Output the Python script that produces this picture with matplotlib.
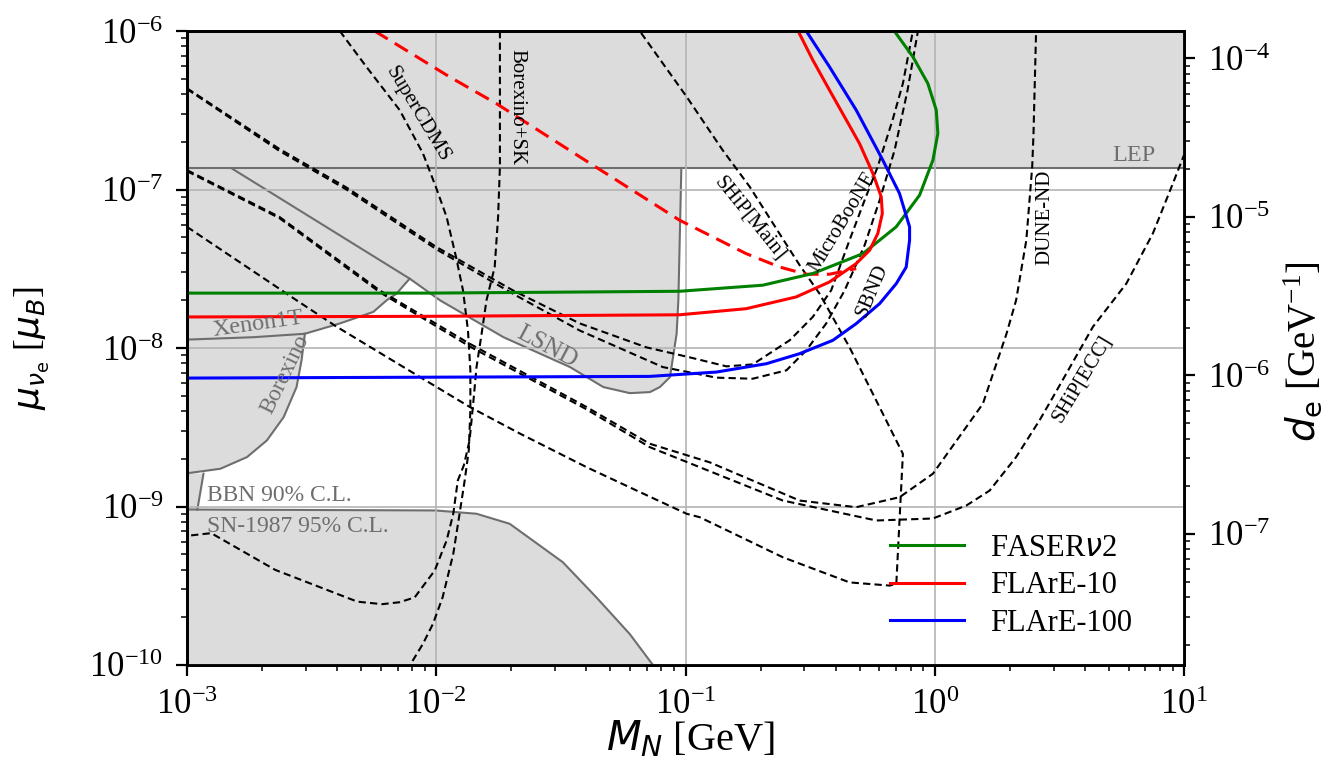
import matplotlib
matplotlib.use('Agg')
from matplotlib import pyplot as plt
from matplotlib.lines import Line2D

plt.rcParams['font.family'] = ['Liberation Serif', 'DejaVu Serif']
plt.rcParams['mathtext.fontset'] = 'custom'
plt.rcParams['mathtext.rm'] = 'Liberation Serif'
plt.rcParams['mathtext.it'] = 'DejaVu Sans:italic'
plt.rcParams['mathtext.sf'] = 'DejaVu Sans'

# M_N in GeV, mu in units of mu_B
LEP_MU = 1.36e-7
DE_PER_MU = 149.0  # d_e [GeV^-1] per mu_B

faser2_m = [1e-3, 9.4e-3, 9.47e-2, 0.204, 0.324, 0.515, 0.70, 0.869, 0.983, 1.029, 1.014, 0.938, 0.817, 0.688]
faser2_mu = [2.22e-8, 2.22e-8, 2.28e-8, 2.49e-8, 2.95e-8, 3.94e-8, 5.81e-8, 9.21e-8, 1.53e-7, 2.26e-7, 3.17e-7, 4.67e-7, 6.88e-7, 1.0e-6]

flare10_m = [1e-3, 9.41e-3, 9.47e-2, 0.175, 0.278, 0.378, 0.484, 0.548, 0.591, 0.616, 0.610, 0.565, 0.499, 0.442, 0.378, 0.324, 0.283]
flare10_mu = [1.57e-8, 1.585e-8, 1.62e-8, 1.77e-8, 2.10e-8, 2.61e-8, 3.41e-8, 4.14e-8, 5.28e-8, 7.06e-8, 8.98e-8, 1.26e-7, 1.95e-7, 2.74e-7, 4.24e-7, 6.56e-7, 1.0e-6]

flare10_alt_m = [5.66e-3, 1.13e-2, 1.74e-2, 3.76e-2, 9.47e-2, 0.175, 0.239, 0.305, 0.378, 0.484]
flare10_alt_mu = [1.0e-6, 5.14e-7, 3.49e-7, 1.61e-7, 6.4e-8, 3.94e-8, 3.24e-8, 2.92e-8, 2.92e-8, 3.17e-8]

flare100_m = [1e-3, 7.18e-2, 0.133, 0.211, 0.287, 0.390, 0.484, 0.601, 0.701, 0.768, 0.7925, 0.7925, 0.722, 0.619, 0.484, 0.378, 0.305]
flare100_mu = [6.46e-9, 6.62e-9, 7.05e-9, 7.96e-9, 9.21e-9, 1.118e-8, 1.425e-8, 1.906e-8, 2.55e-8, 3.24e-8, 4.79e-8, 5.81e-8, 9.44e-8, 1.53e-7, 3.17e-7, 5.95e-7, 1.0e-6]

# excluded regions
xenon_m = [1e-3, 1.85e-3, 2.97e-3, 4.11e-3, 5.59e-3, 6.32e-3, 6.92e-3, 7.82e-3]
xenon_mu = [1.13e-8, 1.17e-8, 1.23e-8, 1.43e-8, 1.69e-8, 2.0e-8, 2.2e-8, 2.74e-8]

lsnd_m = [1.51e-3, 7.82e-3, 1.035e-2, 1.86e-2, 3.44e-2, 4.68e-2, 5.98e-2, 7.2e-2, 7.89e-2, 8.66e-2, 9.21e-2, 9.36e-2, 9.62e-2]
lsnd_mu = [1.36e-7, 2.74e-8, 2.0e-8, 1.17e-8, 7.58e-9, 5.67e-9, 5.19e-9, 5.27e-9, 5.67e-9, 6.55e-9, 1.23e-8, 2.0e-8, 1.36e-7]

borexino_m = [2.97e-3, 2.88e-3, 2.75e-3, 2.44e-3, 2.09e-3, 1.74e-3, 1.36e-3, 1e-3]
borexino_mu = [1.23e-8, 8.36e-9, 5.67e-9, 3.66e-9, 2.61e-9, 2.05e-9, 1.73e-9, 1.62e-9]

bbn_m = [1.164e-3, 1.10e-3]
bbn_mu = [1.61e-9, 9.57e-10]

sn_m = [1e-3, 9.95e-3, 1.45e-2, 1.97e-2, 2.44e-2, 3.22e-2, 4.39e-2, 5.97e-2, 7.4e-2]
sn_mu = [9.57e-10, 9.44e-10, 9.0e-10, 7.78e-10, 6.1e-10, 4.45e-10, 2.67e-10, 1.57e-10, 1e-10]

# projected sensitivities of other experiments
supercdms_m = [4.10e-3, 5.24e-3, 7.13e-3, 8.84e-3, 1.0e-2, 1.10e-2, 1.20e-2, 1.28e-2, 1.34e-2, 1.37e-2, 1.37e-2,
               1.35e-2, 1.30e-2, 1.24e-2, 1.17e-2, 1.06e-2, 9.70e-3, 8.84e-3, 7.85e-3]
supercdms_mu = [1e-6, 5.95e-7, 3.17e-7, 1.69e-7, 1.02e-7, 6.71e-8, 3.75e-8, 2.31e-8, 1.29e-8, 7.23e-9, 4.04e-9,
                2.26e-9, 1.46e-9, 9.0e-10, 5.03e-10, 2.67e-10, 1.82e-10, 1.36e-10, 1e-10]

borexsk_m = [1.80e-2, 1.80e-2, 1.77e-2, 1.715e-2, 1.59e-2, 1.52e-2, 1.45e-2, 1.41e-2, 1.36e-2, 1.29e-2, 1.22e-2,
             1.17e-2, 1.10e-2, 9.85e-3, 8.19e-3, 7.13e-3, 6.07e-3, 4.82e-3, 2.26e-3, 1.25e-3, 1e-3]
borexsk_mu = [1e-6, 1.39e-7, 6.71e-8, 3.24e-8, 2.0e-8, 1.23e-8, 7.58e-9, 4.67e-9, 2.61e-9, 1.82e-9, 1.46e-9,
              9.0e-10, 6.1e-10, 3.94e-10, 2.67e-10, 2.49e-10, 2.42e-10, 2.51e-10, 3.98e-10, 6.79e-10, 6.53e-10]

microboone_m = [1e-3, 2.35e-3, 4.36e-3, 1.0e-2, 2.03e-2, 3.76e-2, 6.96e-2, 0.104, 0.146, 0.186, 0.262, 0.324,
                0.384, 0.455, 0.523, 0.590, 0.677, 0.745, 0.817]
microboone_mu = [4.35e-7, 1.80e-7, 1.03e-7, 4.34e-8, 2.31e-8, 1.43e-8, 1.01e-8, 8.73e-9, 7.66e-9, 7.88e-9, 1.12e-8,
                 1.57e-8, 2.31e-8, 4.79e-8, 8.56e-8, 1.39e-7, 2.74e-7, 4.67e-7, 1e-6]

sbnd_m = [1e-3, 2.35e-3, 4.36e-3, 1.0e-2, 2.03e-2, 3.76e-2, 8.11e-2, 0.133, 0.186, 0.254, 0.305, 0.367, 0.435,
          0.523, 0.601, 0.690, 0.778, 0.856]
sbnd_mu = [4.30e-7, 1.75e-7, 1.0e-7, 4.2e-8, 2.2e-8, 1.29e-8, 7.58e-9, 6.5e-9, 6.4e-9, 7.23e-9, 9.66e-9, 1.43e-8,
           2.31e-8, 4.45e-8, 8.56e-8, 1.77e-7, 4.24e-7, 1e-6]

dune_m = [1e-3, 2.35e-3, 5.93e-3, 1.36e-2, 4.01e-2, 7.18e-2, 0.125, 0.287, 0.484, 0.723, 0.983, 1.56, 1.94, 2.12,
          2.33, 2.46, 2.49, 2.55]
dune_mu = [1.325e-7, 6.71e-8, 2.31e-8, 1.065e-8, 4.24e-9, 2.49e-9, 1.90e-9, 1.09e-9, 9.9e-10, 1.145e-9, 1.61e-9,
           4.45e-9, 1.23e-8, 2.0e-8, 4.79e-8, 1.39e-7, 2.26e-7, 1e-6]

shipecc_m = [1e-3, 2.35e-3, 5.93e-3, 1.36e-2, 4.01e-2, 7.18e-2, 0.246, 0.583, 0.983, 1.34, 1.66, 2.12, 2.63, 2.98,
             4.31, 5.87, 7.50, 9.02, 10.0]
shipecc_mu = [1.305e-7, 6.59e-8, 2.25e-8, 1.024e-8, 4.1e-9, 2.37e-9, 1.09e-9, 8.16e-10, 8.4e-10, 1.015e-9, 1.26e-9,
              2.05e-9, 3.49e-9, 4.9e-9, 1.36e-8, 2.55e-8, 5.28e-8, 1.09e-7, 1.65e-7]

shipmain_m = [1e-3, 2.75e-3, 3.99e-3, 8.6e-3, 1.365e-2, 2.17e-2, 4.01e-2, 6.37e-2, 0.101, 0.114, 0.246, 0.455,
              0.659, 0.701, 0.745, 0.619, 0.455, 0.345, 0.287, 0.238, 0.181, 0.141, 0.101, 0.0655]
shipmain_mu = [5.81e-8, 2.0e-8, 1.36e-8, 6.56e-9, 4.24e-9, 2.88e-9, 1.77e-9, 1.26e-9, 9.0e-10, 8.56e-10, 4.78e-10,
               3.32e-10, 3.17e-10, 3.25e-10, 2.15e-9, 3.85e-9, 1.01e-8, 2.2e-8, 3.33e-8, 5.28e-8, 1.04e-7, 1.77e-7,
               3.85e-7, 1e-6]

FILL = '#dcdcdc'
EDGE = '#6e6e6e'
GRID = '#b4b4b4'

fig = plt.figure(figsize=(13.38, 7.62), dpi=100)
ax = fig.add_axes([0.1398, 0.1273, 0.7451, 0.8320])
ax.set_xscale('log')
ax.set_yscale('log')
ax.set_xlim(1e-3, 10)
ax.set_ylim(1e-10, 1e-6)

# shaded exclusions
ax.fill_between([1e-3, 10], LEP_MU, 1e-6, color=FILL, lw=0, zorder=1)
ax.axhline(LEP_MU, color=EDGE, lw=1.5, zorder=2)
ax.fill([1e-3] + xenon_m + lsnd_m[2:] + [1e-3], [LEP_MU] + xenon_mu + lsnd_mu[2:] + [LEP_MU],
        color=FILL, lw=0, zorder=1)
ax.fill(borexino_m + [1e-3, xenon_m[1]], borexino_mu + [xenon_mu[0], xenon_mu[1]], color=FILL, lw=0, zorder=1)
ax.fill([1e-3] + bbn_m + [1e-3], [borexino_mu[-1]] + bbn_mu + [bbn_mu[-1]], color=FILL, lw=0, zorder=1)
ax.fill_between(sn_m, 1e-10, sn_mu, color=FILL, lw=0, zorder=1)
for m, mu in [(xenon_m, xenon_mu), (lsnd_m, lsnd_mu), (borexino_m, borexino_mu), (bbn_m, bbn_mu), (sn_m, sn_mu)]:
    ax.plot(m, mu, color=EDGE, lw=1.5, zorder=2)

ax.grid(True, which='major', color=GRID, lw=1.2)
ax.set_axisbelow(False)

dash = (0, (3.5, 2.0))
for m, mu in [(supercdms_m, supercdms_mu), (borexsk_m, borexsk_mu), (microboone_m, microboone_mu),
              (sbnd_m, sbnd_mu), (dune_m, dune_mu), (shipecc_m, shipecc_mu), (shipmain_m, shipmain_mu)]:
    ax.plot(m, mu, color='k', lw=1.5, ls=dash, zorder=3)

ax.plot(flare10_alt_m, flare10_alt_mu, color='red', lw=2.2, ls=(0, (5, 2.7)), zorder=4)
ax.plot(faser2_m, faser2_mu, color='green', lw=2.2, zorder=4)
ax.plot(flare10_m, flare10_mu, color='red', lw=2.2, zorder=4)
ax.plot(flare100_m, flare100_mu, color='blue', lw=2.2, zorder=4)

# curve labels
blk = dict(color='k', fontsize=15, ha='center', va='center', zorder=5)
ax.text(8.4e-3, 2.99e-7, 'SuperCDMS', rotation=-59, **blk)
ax.text(2.1e-2, 3.31e-7, 'Borexino+SK', rotation=-90, **blk)
ax.text(0.181, 6.59e-8, 'SHiP[Main]', rotation=-51, **blk)
ax.text(0.427, 6.22e-8, 'MicroBooNE', rotation=59, **blk)
ax.text(0.563, 2.3e-8, 'SBND', rotation=67, **blk)
ax.text(2.76, 6.69e-8, 'DUNE-ND', rotation=90, **blk)
ax.text(3.91, 6.43e-9, 'SHiP[ECC]', rotation=59, **blk)

gry = dict(color=EDGE, zorder=5)
ax.text(2.77e-2, 1.02e-8, 'LSND', rotation=-28, ha='center', va='center', fontsize=18, **gry)
ax.text(1.92e-3, 1.41e-8, 'Xenon1T', rotation=8, ha='center', va='center', fontsize=17.5, **gry)
ax.text(2.47e-3, 6.8e-9, 'Borexino', rotation=64, ha='center', va='center', fontsize=16.5, **gry)
ax.text(1.2e-3, 1.17e-9, 'BBN 90% C.L.', ha='left', va='center', fontsize=17, **gry)
ax.text(1.2e-3, 7.48e-10, 'SN-1987 95% C.L.', ha='left', va='center', fontsize=17, **gry)
ax.text(6.3, 1.65e-7, 'LEP', ha='center', va='center', fontsize=17.5, **gry)

ax.tick_params(which='both', direction='out', top=False, right=False, labelsize=25, pad=9)
ax.tick_params(which='major', length=8, width=1.6)
ax.tick_params(which='minor', length=4.5, width=1.1)
for s in ax.spines.values():
    s.set_linewidth(2.0)

ax.set_xlabel(r'$M_N$ [GeV]', fontsize=29)
ax.xaxis.set_label_coords(0.505, -0.085)
ax.set_ylabel(r'$\mu_{\nu_\mathsf{e}}$ [$\mu_B$]', fontsize=26)
ax.yaxis.set_label_coords(-0.136, 0.5)

ax2 = ax.twinx()
ax2.set_yscale('log')
ax2.set_ylim(1e-10 * DE_PER_MU, 1e-6 * DE_PER_MU)
ax2.tick_params(which='both', direction='out', labelsize=25, pad=9)
ax2.tick_params(which='major', length=8, width=1.6)
ax2.tick_params(which='minor', length=4.5, width=1.1)
for s in ax2.spines.values():
    s.set_linewidth(2.0)
ax2.set_ylabel(r'$d_\mathsf{e}$ [GeV$^{-1}$]', fontsize=28)
ax2.yaxis.set_label_coords(1.099, 0.495)

handles = [Line2D([], [], color='green', lw=2.2), Line2D([], [], color='red', lw=2.2),
           Line2D([], [], color='blue', lw=2.2)]
labels = [r'FASER$\nu$2', 'FLArE-10', 'FLArE-100']
leg = ax2.legend(handles, labels, loc='upper left', bbox_to_anchor=(0.705, 0.2066), frameon=False, fontsize=22,
                 handlelength=2.42, handletextpad=0.85, labelspacing=0.27, borderaxespad=0, borderpad=0)

fig.savefig('out.png', dpi=100)
